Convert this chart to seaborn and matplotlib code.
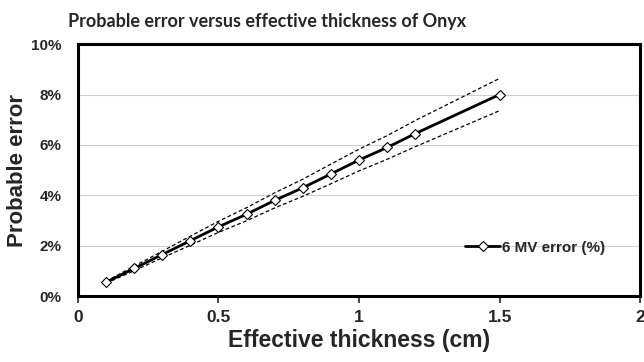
import pandas as pd
import matplotlib
matplotlib.use("Agg")
import matplotlib.pyplot as plt
import seaborn as sns
from matplotlib.ticker import FuncFormatter

sns.set_theme(style="white")
plt.rcParams['font.family'] = ['Liberation Sans', 'DejaVu Sans']

# Data
thickness = [0.1, 0.2, 0.3, 0.4, 0.5, 0.6, 0.7, 0.8, 0.9, 1.0, 1.1, 1.2, 1.5]
error_pct = [0.55, 1.1, 1.65, 2.2, 2.75, 3.25, 3.8, 4.3, 4.85, 5.4, 5.9, 6.45, 8.0]
upper_pct = [0.59, 1.19, 1.78, 2.38, 2.97, 3.51, 4.10, 4.64, 5.24, 5.83, 6.37, 6.97, 8.64]
lower_pct = [0.51, 1.01, 1.52, 2.02, 2.53, 2.99, 3.50, 3.96, 4.46, 4.97, 5.43, 5.93, 7.36]
x_ticks = [0, 0.5, 1, 1.5, 2]
y_ticks = [0, 2, 4, 6, 8, 10]

df = pd.DataFrame({'x': thickness, 'err': error_pct, 'hi': upper_pct, 'lo': lower_pct})

fig = plt.figure(figsize=(6.44, 3.62), dpi=100)
ax = fig.add_axes([0.121, 0.182, 0.873, 0.696])

# dashed bounds
sns.lineplot(data=df, x='x', y='hi', ax=ax, color='black', lw=0.9, linestyle=(0, (3, 2)))
sns.lineplot(data=df, x='x', y='lo', ax=ax, color='black', lw=0.9, linestyle=(0, (3, 2)))
sns.lineplot(data=df, x='x', y='err', ax=ax, color='black', lw=2.0, marker='D',
             markersize=5.5, markerfacecolor='white', markeredgecolor='black',
             markeredgewidth=0.8, label='6 MV error (%)')

ax.set_xlim(0, 2)
ax.set_ylim(0, 10)
ax.set_xticks(x_ticks)
ax.set_xticklabels(['0', '0.5', '1', '1.5', '2'])
ax.set_yticks(y_ticks)
ax.yaxis.set_major_formatter(FuncFormatter(lambda v, p: f"{int(v)}%"))
ax.grid(axis='y', color='#d0d0d0', lw=0.8)
for s in ax.spines.values():
    s.set_linewidth(2.2)
    s.set_color('black')
ax.tick_params(axis='x', direction='out', length=5, width=1.2, bottom=True, pad=5)
ax.tick_params(axis='y', length=0, pad=12)
for lbl in ax.get_xticklabels():
    lbl.set_fontweight('bold')
    lbl.set_fontsize(12.5)
for lbl in ax.get_yticklabels():
    lbl.set_fontweight('bold')
    lbl.set_fontsize(11)

ax.set_xlabel('Effective thickness (cm)', fontsize=16.5, fontweight='bold', labelpad=3)
ax.set_ylabel('Probable error', fontsize=16, fontweight='bold', labelpad=2)

leg = ax.legend(loc='lower right', bbox_to_anchor=(0.962, 0.11), frameon=False,
                handlelength=2.3, handletextpad=0.1,
                prop={'weight': 'bold', 'size': 11})

fig.text(0.106, 0.925, 'Probable error versus effective thickness of Onyx',
         fontsize=13, fontweight='bold', family=['Lato', 'DejaVu Sans'])

fig.savefig('out.png', dpi=100)
